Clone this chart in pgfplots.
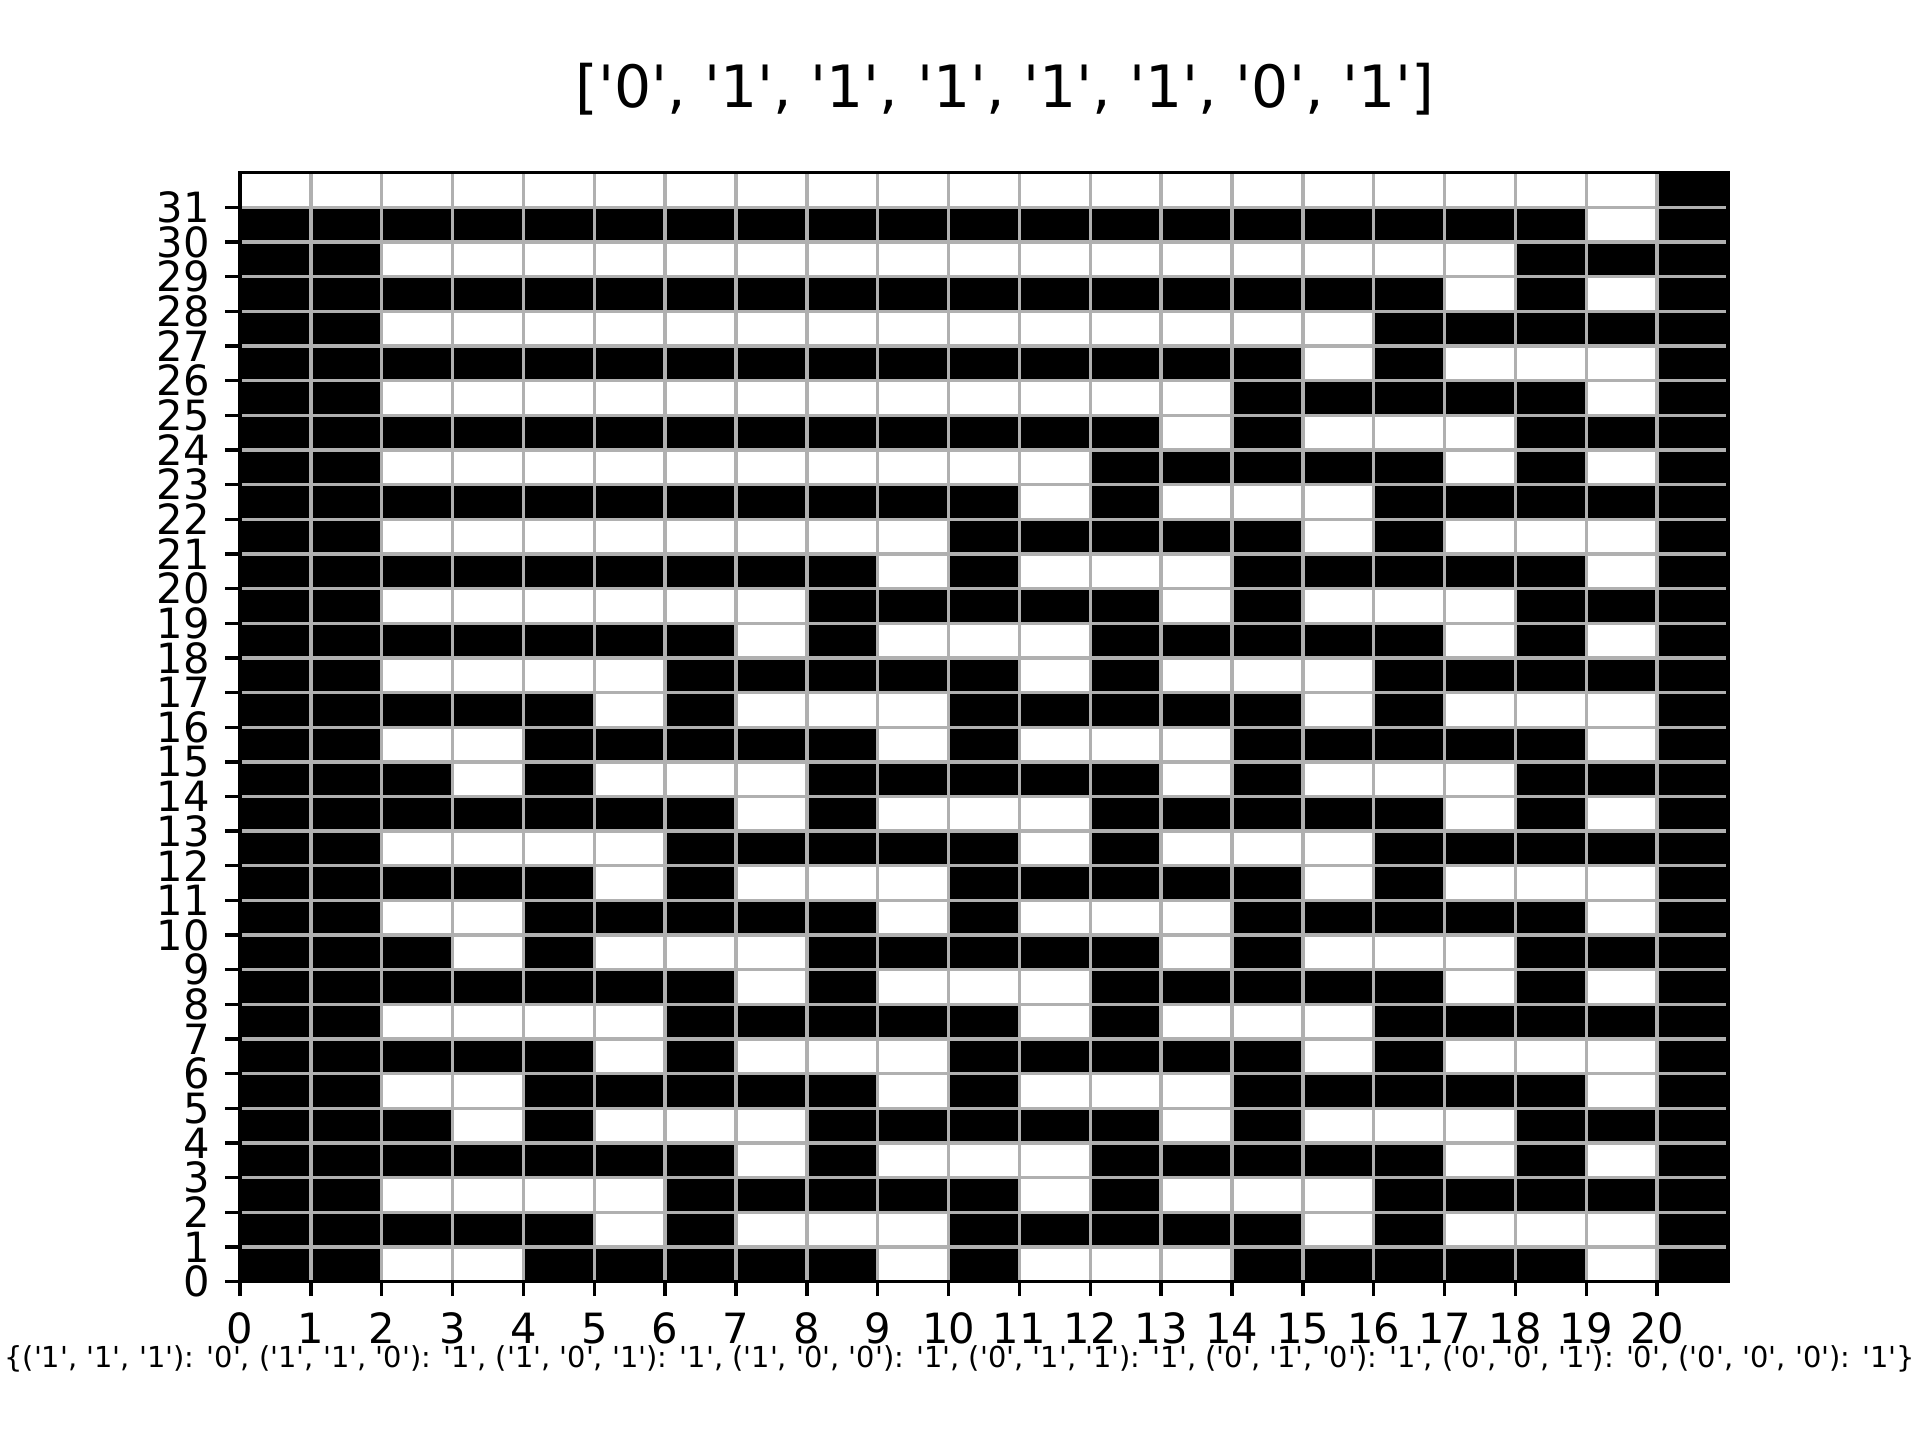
\documentclass[border=0pt]{standalone}
\usepackage{pgfplots}
\pgfplotsset{compat=1.18}
\usepackage{fontspec}
\setmainfont{DejaVu Sans}[Ligatures=TeXOff]
\definecolor{gridgray}{HTML}{B0B0B0}
\begin{document}
\begin{tikzpicture}
\useasboundingbox (0,0) rectangle (460.8pt,345.6pt);
\begin{axis}[
  at={(57.6pt,38.016pt)}, anchor=south west,
  width=357.12pt, height=266.112pt, scale only axis,
  xmin=-0.5, xmax=20.5, ymin=-0.5, ymax=31.5,
  xtick={-0.5,0.5,1.5,2.5,3.5,4.5,5.5,6.5,7.5,8.5,9.5,10.5,11.5,12.5,13.5,14.5,15.5,16.5,17.5,18.5,19.5},
  xticklabels={0,1,2,3,4,5,6,7,8,9,10,11,12,13,14,15,16,17,18,19,20},
  ytick={-0.5,0.5,1.5,2.5,3.5,4.5,5.5,6.5,7.5,8.5,9.5,10.5,11.5,12.5,13.5,14.5,15.5,16.5,17.5,18.5,19.5,20.5,21.5,22.5,23.5,24.5,25.5,26.5,27.5,28.5,29.5,30.5},
  yticklabels={0,1,2,3,4,5,6,7,8,9,10,11,12,13,14,15,16,17,18,19,20,21,22,23,24,25,26,27,28,29,30,31},
  tick pos=left, tick align=outside, major tick length=3.5pt,
  tick style={black, line width=0.8pt},
  axis line style={black, line width=0.8pt},
  grid=major, major grid style={gridgray, line width=0.8pt},
  axis on top,
  colormap={bw}{color=(white) color=(black)},
  point meta min=0, point meta max=1,
  /pgf/number format/assume math mode=true,
  ticklabel style={font=\fontsize{10}{12}\selectfont},
  xticklabel style={anchor=base, inner sep=0pt, yshift=-11.4pt},
  yticklabel style={anchor=east, inner sep=0pt, xshift=-3.5pt},
  title={\relax['0', '1', '1', '1', '1', '1', '0', '1']},
  every axis title/.style={at={(0.5,1)}, anchor=base, xshift=5pt, yshift=15.6pt, font=\fontsize{14}{16.8}\selectfont},
  xlabel={\{('1', '1', '1'): '0', ('1', '1', '0'): '1', ('1', '0', '1'): '1', ('1', '0', '0'): '1', ('0', '1', '1'): '1', ('0', '1', '0'): '1', ('0', '0', '1'): '0', ('0', '0', '0'): '1'\}},
  every axis x label/.style={at={(0.5,0)}, anchor=base, xshift=-5.8pt, yshift=-20.6pt, font=\fontsize{6.93}{8}\selectfont},
]
\addplot[matrix plot*, mesh/cols=21, point meta=explicit] coordinates {
(0,0)[1] (1,0)[1] (2,0)[0] (3,0)[0] (4,0)[1] (5,0)[1] (6,0)[1] (7,0)[1] (8,0)[1] (9,0)[0] (10,0)[1] (11,0)[0] (12,0)[0] (13,0)[0] (14,0)[1] (15,0)[1] (16,0)[1] (17,0)[1] (18,0)[1] (19,0)[0] (20,0)[1]
(0,1)[1] (1,1)[1] (2,1)[1] (3,1)[1] (4,1)[1] (5,1)[0] (6,1)[1] (7,1)[0] (8,1)[0] (9,1)[0] (10,1)[1] (11,1)[1] (12,1)[1] (13,1)[1] (14,1)[1] (15,1)[0] (16,1)[1] (17,1)[0] (18,1)[0] (19,1)[0] (20,1)[1]
(0,2)[1] (1,2)[1] (2,2)[0] (3,2)[0] (4,2)[0] (5,2)[0] (6,2)[1] (7,2)[1] (8,2)[1] (9,2)[1] (10,2)[1] (11,2)[0] (12,2)[1] (13,2)[0] (14,2)[0] (15,2)[0] (16,2)[1] (17,2)[1] (18,2)[1] (19,2)[1] (20,2)[1]
(0,3)[1] (1,3)[1] (2,3)[1] (3,3)[1] (4,3)[1] (5,3)[1] (6,3)[1] (7,3)[0] (8,3)[1] (9,3)[0] (10,3)[0] (11,3)[0] (12,3)[1] (13,3)[1] (14,3)[1] (15,3)[1] (16,3)[1] (17,3)[0] (18,3)[1] (19,3)[0] (20,3)[1]
(0,4)[1] (1,4)[1] (2,4)[1] (3,4)[0] (4,4)[1] (5,4)[0] (6,4)[0] (7,4)[0] (8,4)[1] (9,4)[1] (10,4)[1] (11,4)[1] (12,4)[1] (13,4)[0] (14,4)[1] (15,4)[0] (16,4)[0] (17,4)[0] (18,4)[1] (19,4)[1] (20,4)[1]
(0,5)[1] (1,5)[1] (2,5)[0] (3,5)[0] (4,5)[1] (5,5)[1] (6,5)[1] (7,5)[1] (8,5)[1] (9,5)[0] (10,5)[1] (11,5)[0] (12,5)[0] (13,5)[0] (14,5)[1] (15,5)[1] (16,5)[1] (17,5)[1] (18,5)[1] (19,5)[0] (20,5)[1]
(0,6)[1] (1,6)[1] (2,6)[1] (3,6)[1] (4,6)[1] (5,6)[0] (6,6)[1] (7,6)[0] (8,6)[0] (9,6)[0] (10,6)[1] (11,6)[1] (12,6)[1] (13,6)[1] (14,6)[1] (15,6)[0] (16,6)[1] (17,6)[0] (18,6)[0] (19,6)[0] (20,6)[1]
(0,7)[1] (1,7)[1] (2,7)[0] (3,7)[0] (4,7)[0] (5,7)[0] (6,7)[1] (7,7)[1] (8,7)[1] (9,7)[1] (10,7)[1] (11,7)[0] (12,7)[1] (13,7)[0] (14,7)[0] (15,7)[0] (16,7)[1] (17,7)[1] (18,7)[1] (19,7)[1] (20,7)[1]
(0,8)[1] (1,8)[1] (2,8)[1] (3,8)[1] (4,8)[1] (5,8)[1] (6,8)[1] (7,8)[0] (8,8)[1] (9,8)[0] (10,8)[0] (11,8)[0] (12,8)[1] (13,8)[1] (14,8)[1] (15,8)[1] (16,8)[1] (17,8)[0] (18,8)[1] (19,8)[0] (20,8)[1]
(0,9)[1] (1,9)[1] (2,9)[1] (3,9)[0] (4,9)[1] (5,9)[0] (6,9)[0] (7,9)[0] (8,9)[1] (9,9)[1] (10,9)[1] (11,9)[1] (12,9)[1] (13,9)[0] (14,9)[1] (15,9)[0] (16,9)[0] (17,9)[0] (18,9)[1] (19,9)[1] (20,9)[1]
(0,10)[1] (1,10)[1] (2,10)[0] (3,10)[0] (4,10)[1] (5,10)[1] (6,10)[1] (7,10)[1] (8,10)[1] (9,10)[0] (10,10)[1] (11,10)[0] (12,10)[0] (13,10)[0] (14,10)[1] (15,10)[1] (16,10)[1] (17,10)[1] (18,10)[1] (19,10)[0] (20,10)[1]
(0,11)[1] (1,11)[1] (2,11)[1] (3,11)[1] (4,11)[1] (5,11)[0] (6,11)[1] (7,11)[0] (8,11)[0] (9,11)[0] (10,11)[1] (11,11)[1] (12,11)[1] (13,11)[1] (14,11)[1] (15,11)[0] (16,11)[1] (17,11)[0] (18,11)[0] (19,11)[0] (20,11)[1]
(0,12)[1] (1,12)[1] (2,12)[0] (3,12)[0] (4,12)[0] (5,12)[0] (6,12)[1] (7,12)[1] (8,12)[1] (9,12)[1] (10,12)[1] (11,12)[0] (12,12)[1] (13,12)[0] (14,12)[0] (15,12)[0] (16,12)[1] (17,12)[1] (18,12)[1] (19,12)[1] (20,12)[1]
(0,13)[1] (1,13)[1] (2,13)[1] (3,13)[1] (4,13)[1] (5,13)[1] (6,13)[1] (7,13)[0] (8,13)[1] (9,13)[0] (10,13)[0] (11,13)[0] (12,13)[1] (13,13)[1] (14,13)[1] (15,13)[1] (16,13)[1] (17,13)[0] (18,13)[1] (19,13)[0] (20,13)[1]
(0,14)[1] (1,14)[1] (2,14)[1] (3,14)[0] (4,14)[1] (5,14)[0] (6,14)[0] (7,14)[0] (8,14)[1] (9,14)[1] (10,14)[1] (11,14)[1] (12,14)[1] (13,14)[0] (14,14)[1] (15,14)[0] (16,14)[0] (17,14)[0] (18,14)[1] (19,14)[1] (20,14)[1]
(0,15)[1] (1,15)[1] (2,15)[0] (3,15)[0] (4,15)[1] (5,15)[1] (6,15)[1] (7,15)[1] (8,15)[1] (9,15)[0] (10,15)[1] (11,15)[0] (12,15)[0] (13,15)[0] (14,15)[1] (15,15)[1] (16,15)[1] (17,15)[1] (18,15)[1] (19,15)[0] (20,15)[1]
(0,16)[1] (1,16)[1] (2,16)[1] (3,16)[1] (4,16)[1] (5,16)[0] (6,16)[1] (7,16)[0] (8,16)[0] (9,16)[0] (10,16)[1] (11,16)[1] (12,16)[1] (13,16)[1] (14,16)[1] (15,16)[0] (16,16)[1] (17,16)[0] (18,16)[0] (19,16)[0] (20,16)[1]
(0,17)[1] (1,17)[1] (2,17)[0] (3,17)[0] (4,17)[0] (5,17)[0] (6,17)[1] (7,17)[1] (8,17)[1] (9,17)[1] (10,17)[1] (11,17)[0] (12,17)[1] (13,17)[0] (14,17)[0] (15,17)[0] (16,17)[1] (17,17)[1] (18,17)[1] (19,17)[1] (20,17)[1]
(0,18)[1] (1,18)[1] (2,18)[1] (3,18)[1] (4,18)[1] (5,18)[1] (6,18)[1] (7,18)[0] (8,18)[1] (9,18)[0] (10,18)[0] (11,18)[0] (12,18)[1] (13,18)[1] (14,18)[1] (15,18)[1] (16,18)[1] (17,18)[0] (18,18)[1] (19,18)[0] (20,18)[1]
(0,19)[1] (1,19)[1] (2,19)[0] (3,19)[0] (4,19)[0] (5,19)[0] (6,19)[0] (7,19)[0] (8,19)[1] (9,19)[1] (10,19)[1] (11,19)[1] (12,19)[1] (13,19)[0] (14,19)[1] (15,19)[0] (16,19)[0] (17,19)[0] (18,19)[1] (19,19)[1] (20,19)[1]
(0,20)[1] (1,20)[1] (2,20)[1] (3,20)[1] (4,20)[1] (5,20)[1] (6,20)[1] (7,20)[1] (8,20)[1] (9,20)[0] (10,20)[1] (11,20)[0] (12,20)[0] (13,20)[0] (14,20)[1] (15,20)[1] (16,20)[1] (17,20)[1] (18,20)[1] (19,20)[0] (20,20)[1]
(0,21)[1] (1,21)[1] (2,21)[0] (3,21)[0] (4,21)[0] (5,21)[0] (6,21)[0] (7,21)[0] (8,21)[0] (9,21)[0] (10,21)[1] (11,21)[1] (12,21)[1] (13,21)[1] (14,21)[1] (15,21)[0] (16,21)[1] (17,21)[0] (18,21)[0] (19,21)[0] (20,21)[1]
(0,22)[1] (1,22)[1] (2,22)[1] (3,22)[1] (4,22)[1] (5,22)[1] (6,22)[1] (7,22)[1] (8,22)[1] (9,22)[1] (10,22)[1] (11,22)[0] (12,22)[1] (13,22)[0] (14,22)[0] (15,22)[0] (16,22)[1] (17,22)[1] (18,22)[1] (19,22)[1] (20,22)[1]
(0,23)[1] (1,23)[1] (2,23)[0] (3,23)[0] (4,23)[0] (5,23)[0] (6,23)[0] (7,23)[0] (8,23)[0] (9,23)[0] (10,23)[0] (11,23)[0] (12,23)[1] (13,23)[1] (14,23)[1] (15,23)[1] (16,23)[1] (17,23)[0] (18,23)[1] (19,23)[0] (20,23)[1]
(0,24)[1] (1,24)[1] (2,24)[1] (3,24)[1] (4,24)[1] (5,24)[1] (6,24)[1] (7,24)[1] (8,24)[1] (9,24)[1] (10,24)[1] (11,24)[1] (12,24)[1] (13,24)[0] (14,24)[1] (15,24)[0] (16,24)[0] (17,24)[0] (18,24)[1] (19,24)[1] (20,24)[1]
(0,25)[1] (1,25)[1] (2,25)[0] (3,25)[0] (4,25)[0] (5,25)[0] (6,25)[0] (7,25)[0] (8,25)[0] (9,25)[0] (10,25)[0] (11,25)[0] (12,25)[0] (13,25)[0] (14,25)[1] (15,25)[1] (16,25)[1] (17,25)[1] (18,25)[1] (19,25)[0] (20,25)[1]
(0,26)[1] (1,26)[1] (2,26)[1] (3,26)[1] (4,26)[1] (5,26)[1] (6,26)[1] (7,26)[1] (8,26)[1] (9,26)[1] (10,26)[1] (11,26)[1] (12,26)[1] (13,26)[1] (14,26)[1] (15,26)[0] (16,26)[1] (17,26)[0] (18,26)[0] (19,26)[0] (20,26)[1]
(0,27)[1] (1,27)[1] (2,27)[0] (3,27)[0] (4,27)[0] (5,27)[0] (6,27)[0] (7,27)[0] (8,27)[0] (9,27)[0] (10,27)[0] (11,27)[0] (12,27)[0] (13,27)[0] (14,27)[0] (15,27)[0] (16,27)[1] (17,27)[1] (18,27)[1] (19,27)[1] (20,27)[1]
(0,28)[1] (1,28)[1] (2,28)[1] (3,28)[1] (4,28)[1] (5,28)[1] (6,28)[1] (7,28)[1] (8,28)[1] (9,28)[1] (10,28)[1] (11,28)[1] (12,28)[1] (13,28)[1] (14,28)[1] (15,28)[1] (16,28)[1] (17,28)[0] (18,28)[1] (19,28)[0] (20,28)[1]
(0,29)[1] (1,29)[1] (2,29)[0] (3,29)[0] (4,29)[0] (5,29)[0] (6,29)[0] (7,29)[0] (8,29)[0] (9,29)[0] (10,29)[0] (11,29)[0] (12,29)[0] (13,29)[0] (14,29)[0] (15,29)[0] (16,29)[0] (17,29)[0] (18,29)[1] (19,29)[1] (20,29)[1]
(0,30)[1] (1,30)[1] (2,30)[1] (3,30)[1] (4,30)[1] (5,30)[1] (6,30)[1] (7,30)[1] (8,30)[1] (9,30)[1] (10,30)[1] (11,30)[1] (12,30)[1] (13,30)[1] (14,30)[1] (15,30)[1] (16,30)[1] (17,30)[1] (18,30)[1] (19,30)[0] (20,30)[1]
(0,31)[0] (1,31)[0] (2,31)[0] (3,31)[0] (4,31)[0] (5,31)[0] (6,31)[0] (7,31)[0] (8,31)[0] (9,31)[0] (10,31)[0] (11,31)[0] (12,31)[0] (13,31)[0] (14,31)[0] (15,31)[0] (16,31)[0] (17,31)[0] (18,31)[0] (19,31)[0] (20,31)[1]
};
\end{axis}
\end{tikzpicture}
\end{document}
